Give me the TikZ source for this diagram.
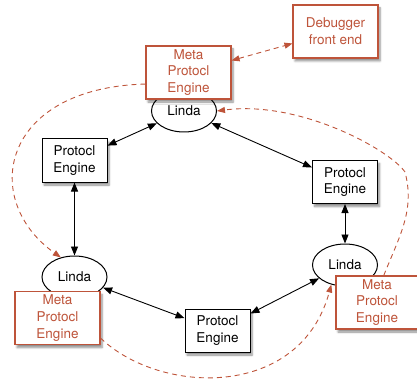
\documentclass[tikz,border=0pt]{standalone}
\usepackage{fontspec}
\setmainfont{TeX Gyre Heros}
\usetikzlibrary{arrows.meta,shapes.geometric,shadows.blur}
\definecolor{metared}{RGB}{190,84,58}
\tikzset{
  every node/.style={font=\fontsize{13.5}{16.7}\selectfont, align=center, inner sep=0pt},
  boxshadow/.style={blur shadow={shadow xshift=2pt, shadow yshift=-3pt, shadow blur steps=6, shadow opacity=45}},
  engine/.style={draw, line width=1pt, fill=white, minimum width=65pt, minimum height=43pt, boxshadow},
  metabox/.style={draw=metared, text=metared, line width=1.1pt, fill=white, minimum width=85pt, minimum height=53pt, boxshadow},
  linda/.style={ellipse, draw, line width=1pt, fill=white, minimum width=65pt, minimum height=42pt},
  link/.style={{Triangle[length=9pt,width=7pt]}-{Triangle[length=9pt,width=7pt]}, line width=0.9pt},
  metalink/.style={-{Triangle[length=8pt,width=6pt]}, metared, line width=0.9pt, dash pattern=on 5pt off 4pt},
  metalinks/.style={metalink, {Triangle[length=8pt,width=6pt]}-{Triangle[length=8pt,width=6pt]}},
}

\begin{document}
\begin{tikzpicture}[x=1pt, y=-1pt]
  \useasboundingbox (0,0) rectangle (417,382);

  % tuple spaces
  \node[linda] (lindaT) at (184,111) {Linda};
  \node[linda] (lindaL) at (74.5,277) {Linda};
  \node[linda] (lindaR) at (345,265) {Linda};

  % protocol engines
  \node[engine] (protoL) at (74.5,160.5) {Protocl\\Engine};
  \node[engine] (protoR) at (345,182) {Protocl\\Engine};
  \node[engine] (protoB) at (217.5,330.5) {Protocl\\Engine};

  % meta engines and debugger
  \node[metabox] (metaT) at (188.5,72.5) {Meta\\Protocl\\Engine};
  \node[metabox] (metaL) at (57.5,318) {Meta\\Protocl\\Engine};
  \node[metabox, minimum width=82pt] (metaR) at (377,302.5) {Meta\\Protocl\\Engine};
  \node[metabox] (debug) at (335.5,31.5) {Debugger\\front end};

  % ring of links
  \draw[link] (lindaT) -- (protoL);
  \draw[link] (lindaT) -- (protoR);
  \draw[link] (protoL) -- (lindaL);
  \draw[link] (lindaL) -- (protoB);
  \draw[link] (protoB) -- (lindaR);
  \draw[link] (protoR) -- (lindaR);

  % meta links
  \draw[metalinks] (metaT) -- (debug);
  \draw[metalink] (metaT.195) .. controls (0,88) and (-20,200) .. (lindaL.125);
  \draw[metalink] (metaL.-25) .. controls (160,395) and (300,400) .. (lindaR.235);
  \draw[metalink] (metaR.76) .. controls (400,235) and (415,210) .. (405,172)
    .. controls (390,150) and (300,100) .. (lindaT.east);
\end{tikzpicture}
\end{document}
